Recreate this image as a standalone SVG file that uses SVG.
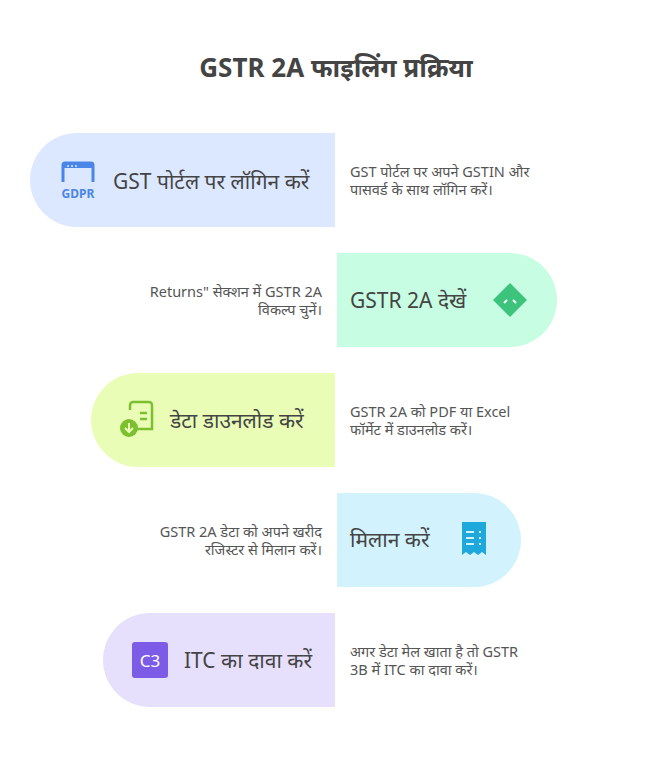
<svg xmlns="http://www.w3.org/2000/svg" width="672" height="781" viewBox="0 0 672 781">
<style>
text{font-family:"Noto Sans","Noto Sans Devanagari","Liberation Sans",sans-serif;fill:#444}
.t{font-size:21px}
.d{font-size:14.5px;fill:#555}
.title{font-size:26px;font-weight:bold}
</style>
<rect width="672" height="781" fill="#fff"/>
<text class="title" x="336" y="77" text-anchor="middle">GSTR 2A फाइलिंग प्रक्रिया</text>
<g id="connectors"/>
<g id="n1">
<path d="M335,133 H77 A47,47 0 0 0 77,227 H335 Z" fill="#dce8ff"/>
<path d="M63,182 V165 a2,2 0 0 1 2,-2 h26 a2,2 0 0 1 2,2 v17" fill="none" stroke="#4a86e8" stroke-width="3"/>
<rect x="63" y="163" width="30" height="5" fill="#4a86e8"/>
<circle cx="68" cy="166" r="1" fill="#dce8ff"/><circle cx="72" cy="166" r="1" fill="#dce8ff"/><circle cx="76" cy="166" r="1" fill="#dce8ff"/>
<text x="78" y="198" text-anchor="middle" style="font-size:12px;font-weight:bold;fill:#4a86e8">GDPR</text>
<text class="t" x="113" y="189">GST पोर्टल पर लॉगिन करें</text>
<text class="d" x="350" y="177">GST पोर्टल पर अपने GSTIN और</text>
<text class="d" x="350" y="195">पासवर्ड के साथ लॉगिन करें।</text>
</g>
<g id="n2">
<path d="M337,253 H510 A47,47 0 0 1 510,347 H337 Z" fill="#c7fde2"/>
<rect x="498" y="288" width="24" height="24" fill="#3cc47c" transform="rotate(45 510 300)"/>
<path d="M504,303 l3,-3 M513,300 l3,3" stroke="#fff" stroke-width="2"/>
<text class="t" x="350" y="308">GSTR 2A देखें</text>
<text class="d" x="322" y="297" text-anchor="end">Returns" सेक्शन में GSTR 2A</text>
<text class="d" x="322" y="315" text-anchor="end">विकल्प चुनें।</text>
</g>
<g id="n3">
<path d="M335,373 H138 A47,47 0 0 0 138,467 H335 Z" fill="#e9fdb7"/>
<path d="M130,410 V405 a3,3 0 0 1 3,-3 h16 a3,3 0 0 1 3,3 v24 h-16" fill="none" stroke="#7cbf2f" stroke-width="2.5"/>
<path d="M140,413 h7 M140,419 h7" stroke="#7cbf2f" stroke-width="2.5"/>
<circle cx="129" cy="428" r="9" fill="#7cbf2f"/>
<path d="M129,423 v8 M125,428 l4,4 4,-4" fill="none" stroke="#e9fdb7" stroke-width="2"/>
<text class="t" x="170" y="428">डेटा डाउनलोड करें</text>
<text class="d" x="350" y="417">GSTR 2A को PDF या Excel</text>
<text class="d" x="350" y="435">फॉर्मेट में डाउनलोड करें।</text>
</g>
<g id="n4">
<path d="M337,493 H474 A47,47 0 0 1 474,587 H337 Z" fill="#d2f3fd"/>
<path d="M462,522 h24 v33 l-4,-3 -4,3 -4,-3 -4,3 -4,-3 -4,3 Z" fill="#1fa8dc"/>
<path d="M466,532 h8 M466,538 h8 M466,544 h8 M479,532 h2 M479,538 h2 M479,544 h2" stroke="#d2f3fd" stroke-width="2"/>
<text class="t" x="350" y="547">मिलान करें</text>
<text class="d" x="322" y="537" text-anchor="end">GSTR 2A डेटा को अपने खरीद</text>
<text class="d" x="322" y="555" text-anchor="end">रजिस्टर से मिलान करें।</text>
</g>
<g id="n5">
<path d="M335,613 H150 A47,47 0 0 0 150,707 H335 Z" fill="#e6e0fd"/>
<rect x="132" y="642" width="36" height="36" rx="3" fill="#7c5ce6"/>
<text x="150" y="667" text-anchor="middle" style="font-size:17px;fill:#fff">C3</text>
<text class="t" x="184" y="668">ITC का दावा करें</text>
<text class="d" x="350" y="657">अगर डेटा मेल खाता है तो GSTR</text>
<text class="d" x="350" y="675">3B में ITC का दावा करें।</text>
</g>
</svg>
